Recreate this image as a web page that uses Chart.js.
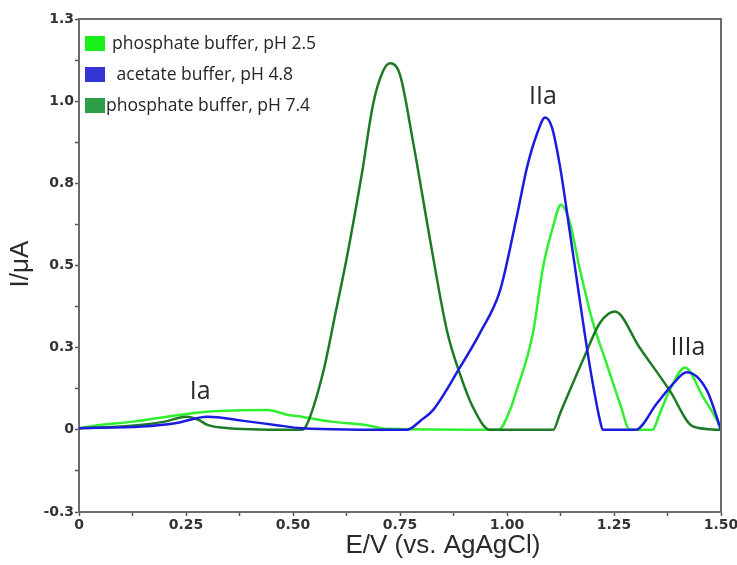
<!DOCTYPE html>
<html lang="en">
<head>
<meta charset="UTF-8">
<title>Differential pulse voltammograms</title>
<script src="https://cdn.jsdelivr.net/npm/chart.js"></script>
<style>
    html, body { margin: 0; padding: 0; background: #fff; }
</style>
</head>
<body>
<canvas id="chart" width="737" height="565"></canvas>
<script>
// series names, colours
const seriesLabels = ['phosphate buffer, pH 2.5', ' acetate buffer, pH 4.8', 'phosphate buffer, pH 7.4'];
const lineColors = ['#2ff02f', '#1c1ce0', '#1f7a27'];
const boxColors = ['#19ef19', '#3535d6', '#2c9e48'];

// pH 2.5 (light green)
const xPh25 = [0, 0.05, 0.126, 0.205, 0.30, 0.44, 0.49, 0.52, 0.59, 0.67, 0.72, 0.98, 1.007, 1.02, 1.06, 1.085, 1.108, 1.126, 1.147, 1.17, 1.20, 1.233, 1.264, 1.287, 1.34, 1.357, 1.38, 1.416, 1.458, 1.49, 1.5];
const yPh25 = [0.005, 0.015, 0.025, 0.04, 0.055, 0.06, 0.045, 0.04, 0.025, 0.015, 0.003, 0.0, 0.06, 0.11, 0.29, 0.50, 0.62, 0.685, 0.63, 0.49, 0.33, 0.20, 0.08, 0.0, 0.0, 0.05, 0.12, 0.19, 0.10, 0.03, 0.0];

// pH 4.8 (blue)
const xPh48 = [0, 0.147, 0.225, 0.30, 0.38, 0.458, 0.52, 0.766, 0.80, 0.827, 0.89, 0.937, 0.984, 1.023, 1.047, 1.07, 1.089, 1.105, 1.124, 1.147, 1.17, 1.194, 1.217, 1.224, 1.30, 1.35, 1.388, 1.42, 1.467, 1.5];
const yPh48 = [0.005, 0.01, 0.02, 0.04, 0.028, 0.015, 0.005, 0.0, 0.03, 0.06, 0.19, 0.295, 0.425, 0.65, 0.80, 0.90, 0.95, 0.92, 0.80, 0.60, 0.395, 0.19, 0.03, 0.0, 0.0, 0.08, 0.14, 0.175, 0.12, 0.0];

// pH 7.4 (dark green)
const xPh74 = [0, 0.1, 0.2, 0.25, 0.28, 0.30, 0.35, 0.52, 0.53, 0.57, 0.60, 0.626, 0.661, 0.687, 0.71, 0.727, 0.75, 0.78, 0.82, 0.86, 0.89, 0.92, 0.96, 1.108, 1.124, 1.18, 1.217, 1.252, 1.31, 1.38, 1.435, 1.5];
const yPh74 = [0.005, 0.01, 0.025, 0.04, 0.03, 0.015, 0.005, 0.0, 0.01, 0.173, 0.36, 0.526, 0.78, 0.99, 1.09, 1.115, 1.08, 0.88, 0.58, 0.30, 0.17, 0.07, 0.0, 0.0, 0.05, 0.22, 0.325, 0.36, 0.25, 0.12, 0.01, 0.0];

// axis ticks
const xTickValues = [0, 0.25, 0.5, 0.75, 1.0, 1.25, 1.5];
const xTickLabels = ['0', '0.25', '0.50', '0.75', '1.00', '1.25', '1.50'];
const yTickValues = [-0.25, 0, 0.25, 0.5, 0.75, 1.0, 1.25];
const yTickLabels = ['-0.3', '0', '0.3', '0.5', '0.8', '1.0', '1.3'];

// peak labels (data coords)
const peakNames = ['Ia', 'IIa', 'IIIa'];
const peakX = [0.283, 1.084, 1.423];
const peakY = [0.116, 1.013, 0.25];

function toPoints(xs, ys) {
    return xs.map((x, i) => ({ x: x, y: ys[i] }));
}

function labelFor(values, labels) {
    return function (value) {
        const i = values.findIndex(v => Math.abs(v - value) < 1e-6);
        return i >= 0 ? labels[i] : '';
    };
}

const tickFont = { family: 'DejaVu Sans', size: 14, weight: 'bold' };

// frame on top and right of the plot
const framePlugin = {
    id: 'frame',
    afterDraw(chart) {
        const { ctx, chartArea: a } = chart;
        ctx.save();
        ctx.strokeStyle = '#6b6b6b';
        ctx.lineWidth = 2;
        ctx.beginPath();
        ctx.moveTo(a.left, a.top);
        ctx.lineTo(a.right, a.top);
        ctx.lineTo(a.right, a.bottom);
        ctx.stroke();
        ctx.restore();
    }
};

// axis titles, peak names and legend
const textPlugin = {
    id: 'texts',
    afterDraw(chart) {
        const ctx = chart.ctx;
        const xs = chart.scales.x, ys = chart.scales.y;
        ctx.save();
        ctx.fillStyle = '#2a2a2a';
        ctx.textAlign = 'center';
        ctx.textBaseline = 'middle';

        ctx.font = '26px "Liberation Sans"';
        ctx.fillText('E/V (vs. AgAgCl)', 443, 546);
        ctx.save();
        ctx.translate(21, 264);
        ctx.rotate(-Math.PI / 2);
        ctx.fillText('I/\u03bcA', 0, 0);
        ctx.restore();

        ctx.font = '25px "Open Sans"';
        peakNames.forEach((t, i) => {
            ctx.fillText(t, xs.getPixelForValue(peakX[i]), ys.getPixelForValue(peakY[i]));
        });

        // legend
        ctx.textAlign = 'left';
        ctx.font = '17.5px "Open Sans"';
        chart.data.datasets.forEach((ds, i) => {
            const cy = 44 + i * 31;
            ctx.fillStyle = boxColors[i];
            ctx.fillRect(85, cy - 8, 20, 15);
            ctx.fillStyle = '#262626';
            ctx.fillText(ds.label, i === 2 ? 106 : 112, cy);
        });
        ctx.restore();
    }
};

const datasets = [
    { label: seriesLabels[0], data: toPoints(xPh25, yPh25), borderColor: lineColors[0], order: 2 },
    { label: seriesLabels[1], data: toPoints(xPh48, yPh48), borderColor: lineColors[1], order: 0 },
    { label: seriesLabels[2], data: toPoints(xPh74, yPh74), borderColor: lineColors[2], order: 1 }
].map(d => Object.assign(d, {
    borderWidth: 2.5,
    pointRadius: 0,
    fill: false,
    cubicInterpolationMode: 'monotone'
}));

new Chart(document.getElementById('chart'), {
    type: 'line',
    data: { datasets: datasets },
    options: {
        responsive: false,
        animation: false,
        layout: { padding: { left: 0, top: 19, right: 16, bottom: 0 } },
        plugins: {
            legend: { display: false },
            tooltip: { enabled: false }
        },
        scales: {
            x: {
                type: 'linear',
                min: 0,
                max: 1.5,
                // fixed height, and let the last label hang into the right margin
                afterFit: s => { s.height = 53; s.paddingRight = 0; s.paddingLeft = 0; },
                ticks: {
                    stepSize: 0.125,
                    autoSkip: false,
                    maxRotation: 0,
                    padding: 1,
                    color: '#333',
                    font: tickFont,
                    callback: labelFor(xTickValues, xTickLabels)
                },
                grid: { drawOnChartArea: false, tickLength: 4, tickWidth: 1.5, tickColor: '#555' },
                border: { color: '#6b6b6b', width: 2 }
            },
            y: {
                type: 'linear',
                min: -0.25,
                max: 1.25,
                afterFit: s => { s.width = 79; s.paddingTop = 0; s.paddingBottom = 0; },
                ticks: {
                    stepSize: 0.125,
                    autoSkip: false,
                    padding: 1,
                    color: '#333',
                    font: tickFont,
                    callback: labelFor(yTickValues, yTickLabels)
                },
                grid: { drawOnChartArea: false, tickLength: 4, tickWidth: 1.5, tickColor: '#555' },
                border: { color: '#6b6b6b', width: 2 }
            }
        }
    },
    plugins: [framePlugin, textPlugin]
});
</script>
</body>
</html>
